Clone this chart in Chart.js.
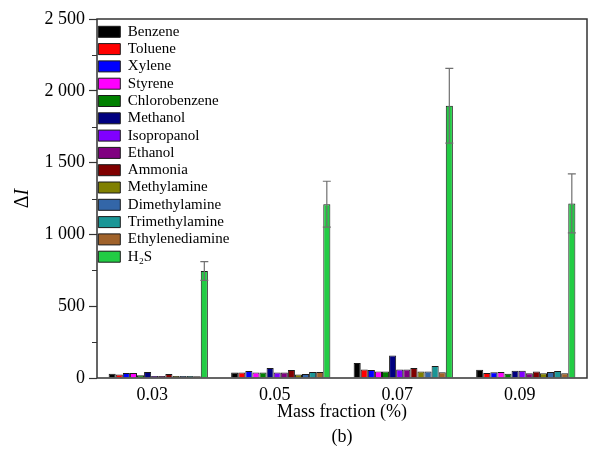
<!DOCTYPE html>
<html>
<head>
<meta charset="utf-8">
<script src="https://cdn.jsdelivr.net/npm/chart.js@4.4.1/dist/chart.umd.min.js"></script>
<style>
  html, body { margin: 0; padding: 0; background: #fff; }
  #graphique { display: block; }
</style>
</head>
<body>
<canvas id="graphique" width="589" height="454"></canvas>
<script>
// Fractions massiques (axe X)
const fractions = ['0.03', '0.05', '0.07', '0.09'];

// Reponse ΔI par gaz
const benzene         = [30, 38, 105, 58];
const toluene         = [24, 38, 60, 35];
const xylene          = [35, 48, 55, 40];
const styrene         = [35, 38, 45, 42];
const chlorobenzene   = [20, 38, 45, 30];
const methanol        = [42, 70, 156, 50];
const isopropanol     = [14, 38, 60, 50];
const ethanol         = [14, 38, 60, 33];
const ammonia         = [28, 56, 70, 46];
const methylamine     = [14, 24, 45, 33];
const dimethylamine   = [14, 28, 45, 42];
const trimethylamine  = [14, 42, 83, 48];
const ethylenediamine = [12, 42, 40, 33];
const h2s             = [745, 1210, 1896, 1216];
const h2sErreur       = [65, 160, 260, 205];

const graduationsY = [0, 500, 1000, 1500, 2000, 2500];

const series = [
    { nom: 'Benzene',         valeurs: benzene,         couleur: '#000000' },
    { nom: 'Toluene',         valeurs: toluene,         couleur: '#ff0000' },
    { nom: 'Xylene',          valeurs: xylene,          couleur: '#0000ff' },
    { nom: 'Styrene',         valeurs: styrene,         couleur: '#ff00ff' },
    { nom: 'Chlorobenzene',   valeurs: chlorobenzene,   couleur: '#008000' },
    { nom: 'Methanol',        valeurs: methanol,        couleur: '#000080' },
    { nom: 'Isopropanol',     valeurs: isopropanol,     couleur: '#8000ff' },
    { nom: 'Ethanol',         valeurs: ethanol,         couleur: '#800080' },
    { nom: 'Ammonia',         valeurs: ammonia,         couleur: '#800000' },
    { nom: 'Methylamine',     valeurs: methylamine,     couleur: '#808000' },
    { nom: 'Dimethylamine',   valeurs: dimethylamine,   couleur: '#3366a8' },
    { nom: 'Trimethylamine',  valeurs: trimethylamine,  couleur: '#1a9696' },
    { nom: 'Ethylenediamine', valeurs: ethylenediamine, couleur: '#a0622a' },
    { nom: 'H\u2082S',        valeurs: h2s,             couleur: '#22cc44' }
];

const POLICE = '"Liberation Serif", "Times New Roman", serif';

// "2500" -> "2 500"
function formaterMilliers(v) {
    return String(v).replace(/\B(?=(\d{3})+(?!\d))/g, ' ');
}

// Cadre, petites graduations, barres d erreur et titre ΔI
const decor = {
    id: 'decor',
    beforeDraw(chart) {
        // la legende verticale en 'chartArea' part de top = 0 : on la recale
        const legende = chart.legend;
        const zone = chart.chartArea;
        if (!legende) return;
        const h = legende.height;
        legende.top = zone.top + 3;
        legende.bottom = legende.top + h;
        legende.left = zone.left - 1;
    },
    afterDatasetsDraw(chart) {
        const ctx = chart.ctx;
        const y = chart.scales.y;

        // barres d erreur sur H2S
        const meta = chart.getDatasetMeta(series.length - 1);
        ctx.save();
        ctx.strokeStyle = '#707070';
        ctx.lineWidth = 1.2;
        meta.data.forEach((barre, i) => {
            const v = h2s[i], e = h2sErreur[i];
            const yHaut = y.getPixelForValue(v + e);
            const yBas  = y.getPixelForValue(v - e);
            const x = barre.x;
            ctx.beginPath();
            ctx.moveTo(x, yHaut); ctx.lineTo(x, yBas);
            ctx.moveTo(x - 4, yHaut); ctx.lineTo(x + 4, yHaut);
            ctx.moveTo(x - 4, yBas);  ctx.lineTo(x + 4, yBas);
            ctx.stroke();
        });
        ctx.restore();
    },
    afterDraw(chart) {
        const ctx = chart.ctx;
        const zone = chart.chartArea;
        const y = chart.scales.y;

        ctx.save();
        ctx.strokeStyle = '#333';
        ctx.lineWidth = 1.5;
        ctx.strokeRect(zone.left, zone.top, zone.right - zone.left, zone.bottom - zone.top);

        // petites graduations a 250, 750, ...
        ctx.lineWidth = 1.2;
        ctx.beginPath();
        for (let v = 250; v < 2500; v += 500) {
            const py = Math.round(y.getPixelForValue(v)) + 0.5;
            ctx.moveTo(zone.left - 5, py);
            ctx.lineTo(zone.left, py);
        }
        ctx.stroke();

        // titre de l axe Y : Δ droit, I en italique
        ctx.fillStyle = '#000';
        ctx.translate(23, (zone.top + zone.bottom) / 2);
        ctx.rotate(-Math.PI / 2);
        ctx.textBaseline = 'middle';
        ctx.font = '20px ' + POLICE;
        const largeurDelta = ctx.measureText('\u0394').width;
        ctx.font = 'italic 20px ' + POLICE;
        const largeurI = ctx.measureText('I').width;
        const debut = -(largeurDelta + largeurI) / 2;
        ctx.font = '20px ' + POLICE;
        ctx.textAlign = 'left';
        ctx.fillText('\u0394', debut, 0);
        ctx.font = 'italic 20px ' + POLICE;
        ctx.fillText('I', debut + largeurDelta, 0);
        ctx.restore();
    }
};

function creerGraphique() {
    const contexte = document.getElementById('graphique').getContext('2d');

    return new Chart(contexte, {
        type: 'bar',
        data: {
            labels: fractions,
            datasets: series.map(s => ({
                label: s.nom,
                data: s.valeurs,
                backgroundColor: s.couleur,
                borderColor: '#1a1a1a',
                borderWidth: 1,
                categoryPercentage: 0.81,
                barPercentage: 1.0
            }))
        },
        options: {
            responsive: false,
            animation: false,
            devicePixelRatio: 1,
            layout: { padding: { top: 19, right: 2, left: 0, bottom: 0 } },
            scales: {
                x: {
                    grid: { display: false, drawTicks: false },
                    border: { display: false },
                    ticks: {
                        color: '#000',
                        font: { family: POLICE, size: 18 },
                        padding: 6,
                        labelOffset: -6
                    },
                    title: {
                        display: true,
                        text: ['Mass fraction (%)', '(b)'],
                        color: '#000',
                        font: { family: POLICE, size: 18, lineHeight: 1.4 },
                        padding: { top: 0, bottom: 4 }
                    },
                    afterFit: echelle => { echelle.height = 76; }
                },
                y: {
                    min: 0,
                    max: 2500,
                    afterBuildTicks: echelle => {
                        echelle.ticks = graduationsY.map(v => ({ value: v }));
                    },
                    grid: {
                        drawOnChartArea: false,
                        drawTicks: true,
                        tickLength: 8,
                        tickColor: '#333',
                        tickWidth: 1.2
                    },
                    border: { display: false },
                    ticks: {
                        color: '#000',
                        padding: 4,
                        font: { family: POLICE, size: 18 },
                        callback: v => formaterMilliers(v)
                    },
                    afterFit: echelle => { echelle.width = 97; }
                }
            },
            plugins: {
                legend: {
                    position: 'chartArea',
                    align: 'start',
                    labels: {
                        color: '#000',
                        font: { family: POLICE, size: 15 },
                        boxWidth: 22,
                        boxHeight: 11,
                        padding: 2.3
                    }
                },
                tooltip: { enabled: false }
            }
        },
        plugins: [decor]
    });
}

creerGraphique();
</script>
</body>
</html>
